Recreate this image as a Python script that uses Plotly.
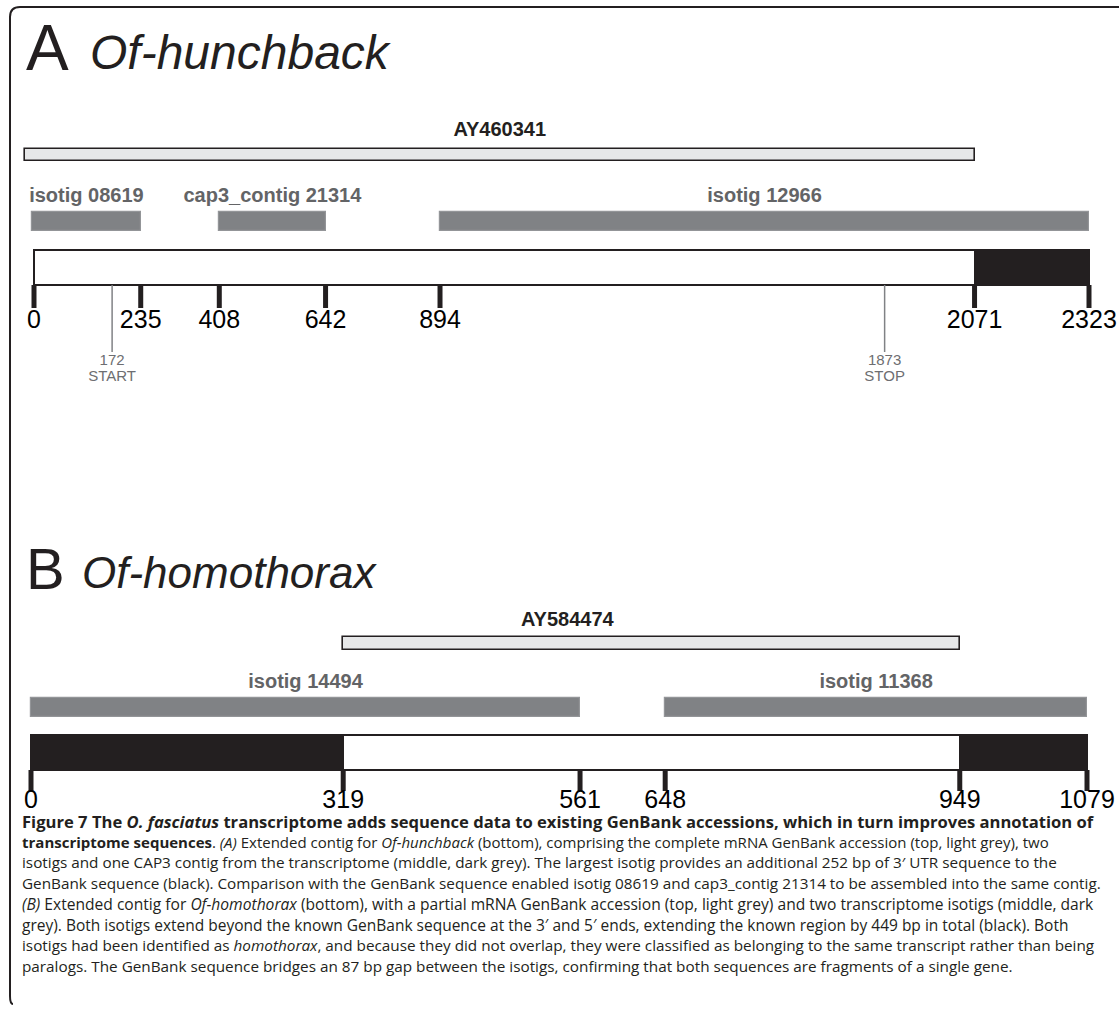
import plotly.graph_objects as go

# ---------------- data ----------------
# Panel A: Of-hunchback (bp positions)
a_genbank_name = "AY460341"
a_genbank = (-20, 2071)
a_isotig_names = ["isotig 08619", "cap3_contig 21314", "isotig 12966"]
a_isotig_start = [-4, 408, 894]
a_isotig_end = [235, 642, 2323]
a_contig_start = [0, 2071]
a_contig_end = [2071, 2323]
a_contig_kind = ["known", "new"]
a_ticks = [0, 235, 408, 642, 894, 2071, 2323]
a_tick_labels = ["0", "235", "408", "642", "894", "2071", "2323"]
a_marks = [172, 1873]
a_mark_labels = ["START", "STOP"]

# Panel B: Of-homothorax (bp positions)
b_genbank_name = "AY584474"
b_genbank = (319, 949)
b_isotig_names = ["isotig 14494", "isotig 11368"]
b_isotig_start = [0, 648]
b_isotig_end = [561, 1079]
b_contig_start = [0, 319, 949]
b_contig_end = [319, 949, 1079]
b_contig_kind = ["new", "known", "new"]
b_ticks = [0, 319, 561, 648, 949, 1079]
b_tick_labels = ["0", "319", "561", "648", "949", "1079"]

caption_lines = [
    "<b>Figure 7 The <i>O. fasciatus</i> transcriptome adds sequence data to existing GenBank accessions, which in turn improves annotation of</b>",
    "<b>transcriptome sequences</b>. <i>(A)</i> Extended contig for <i>Of-hunchback</i> (bottom), comprising the complete mRNA GenBank accession (top, light grey), two",
    "isotigs and one CAP3 contig from the transcriptome (middle, dark grey). The largest isotig provides an additional 252 bp of 3\u2032 UTR sequence to the",
    "GenBank sequence (black). Comparison with the GenBank sequence enabled isotig 08619 and cap3_contig 21314 to be assembled into the same contig.",
    "<i>(B)</i> Extended contig for <i>Of-homothorax</i> (bottom), with a partial mRNA GenBank accession (top, light grey) and two transcriptome isotigs (middle, dark",
    "grey). Both isotigs extend beyond the known GenBank sequence at the 3\u2032 and 5\u2032 ends, extending the known region by 449 bp in total (black). Both",
    "isotigs had been identified as <i>homothorax</i>, and because they did not overlap, they were classified as belonging to the same transcript rather than being",
    "paralogs. The GenBank sequence bridges an 87 bp gap between the isotigs, confirming that both sequences are fragments of a single gene.",
]

# ---------------- style ----------------
W, H = 1119, 1015
BLACK = "#231f20"
LIGHT = "#e6e7e8"
DARK = "#808285"
DARK_EDGE = "#939598"
LABEL_GREY = "#636466"
MARK_GREY = "#6d6e71"
FONT = "Liberation Sans, Arial, Helvetica, sans-serif"
CAP_FONT = "Open Sans, Noto Sans, sans-serif"
LABEL_SIZE = 20
CAP_SIZES = [16.6, 15.0, 15.3, 15.3, 15.6, 15.5, 15.3, 15.3]

# row layout (vertical positions, top-down)
A_ROWS = dict(gb_label=131, gb=155, gb_h=12, iso_label=197, iso=221.5, iso_h=19,
              contig=267.5, contig_h=35, tick_top=285, tick_bot=308, tick_label=322,
              mark_bot=352, mark_num=361, mark_lab=377)
B_ROWS = dict(gb_label=621, gb=643.5, gb_h=13, iso_label=683, iso=707.5, iso_h=19,
              contig=752.5, contig_h=35, tick_top=770, tick_bot=791, tick_label=802)

fig = go.Figure()


def add_bar(xa, ya, start, end, yc, h, fill, edge, ew):
    fig.add_trace(go.Bar(
        orientation="h", x=[end - start], base=[start], y=[yc], width=[h],
        marker=dict(color=fill, line=dict(color=edge, width=ew)),
        xaxis=xa, yaxis=ya, showlegend=False, hoverinfo="skip"))


def add_text(xa, ya, xs, ys, texts, size, color, bold=False):
    if bold:
        texts = ["<b>%s</b>" % t for t in texts]
    fig.add_trace(go.Scatter(
        x=xs, y=ys, mode="text", text=texts, textposition="middle center",
        textfont=dict(family=FONT, size=size, color=color), cliponaxis=False,
        xaxis=xa, yaxis=ya, showlegend=False, hoverinfo="skip"))


def panel(xa, ya, rows, gb, gb_name, gb_label_x, iso_s, iso_e, iso_n,
          c_s, c_e, c_k, ticks, tick_labels):
    # GenBank accession
    add_bar(xa, ya, gb[0], gb[1], rows["gb"], rows["gb_h"], LIGHT, BLACK, 1.6)
    add_text(xa, ya, [gb_label_x], [rows["gb_label"]], [gb_name], LABEL_SIZE, BLACK, bold=True)
    # transcriptome isotigs
    for s, e, n in zip(iso_s, iso_e, iso_n):
        add_bar(xa, ya, s, e, rows["iso"], rows["iso_h"], DARK, DARK_EDGE, 1.2)
        add_text(xa, ya, [(s + e) / 2], [rows["iso_label"]], [n], LABEL_SIZE, LABEL_GREY, bold=True)
    # extended contig
    for s, e, k in zip(c_s, c_e, c_k):
        add_bar(xa, ya, s, e, rows["contig"], rows["contig_h"],
                "white" if k == "known" else BLACK, BLACK, 2)
    # tick marks
    tx, ty = [], []
    for t in ticks:
        tx += [t, t, None]
        ty += [rows["tick_top"], rows["tick_bot"], None]
    fig.add_trace(go.Scatter(x=tx, y=ty, mode="lines",
                             line=dict(color=BLACK, width=5), cliponaxis=False,
                             xaxis=xa, yaxis=ya, showlegend=False, hoverinfo="skip"))
    add_text(xa, ya, ticks, [rows["tick_label"]] * len(ticks), tick_labels, 25, "black")


panel("x", "y", A_ROWS, a_genbank, a_genbank_name, sum(a_genbank) / 2,
      a_isotig_start, a_isotig_end, a_isotig_names,
      a_contig_start, a_contig_end, a_contig_kind, a_ticks, a_tick_labels)
panel("x2", "y2", B_ROWS, b_genbank, b_genbank_name, sum(b_genbank) / 2 - 86,
      b_isotig_start, b_isotig_end, b_isotig_names,
      b_contig_start, b_contig_end, b_contig_kind, b_ticks, b_tick_labels)

# START / STOP markers (panel A)
mx, my = [], []
for m in a_marks:
    mx += [m, m, None]
    my += [A_ROWS["tick_top"], A_ROWS["mark_bot"], None]
fig.add_trace(go.Scatter(x=mx, y=my, mode="lines", line=dict(color=DARK, width=1.5),
                         xaxis="x", yaxis="y", showlegend=False, hoverinfo="skip"))
add_text("x", "y", a_marks, [A_ROWS["mark_num"]] * len(a_marks), [str(m) for m in a_marks], 15, MARK_GREY)
add_text("x", "y", a_marks, [A_ROWS["mark_lab"]] * len(a_marks), a_mark_labels, 15, MARK_GREY)

annotations = []
# panel titles
for letter, gene, y, gx, ls, gs in [("A", "Of-hunchback", 48, 88, 64, 48),
                                    ("B", "Of-homothorax", 568, 80, 58, 44)]:
    annotations.append(dict(text=letter, x=24 / W, xref="paper", y=y, yref="y",
                            xanchor="left", yanchor="middle", showarrow=False,
                            font=dict(family=FONT, size=ls, color=BLACK)))
    annotations.append(dict(text="<i>%s</i>" % gene, x=gx / W,
                            xref="paper", y=y + 4, yref="y",
                            xanchor="left", yanchor="middle", showarrow=False,
                            font=dict(family=FONT, size=gs, color=BLACK)))
# caption
for i, line in enumerate(caption_lines):
    annotations.append(dict(text=line, x=20 / W, xref="paper", y=821 + 20.7 * i, yref="y",
                            xanchor="left", yanchor="middle", showarrow=False,
                            font=dict(family=CAP_FONT, size=CAP_SIZES[i], color=BLACK)))

# frame (rounded box, right/bottom edges outside the picture)
frame_path = ("M {x0} {y0} Q {x1} {y0} {x1} {y2} L {x1} {y3} Q {x1} {y4} {x5} {y4} L {x6} {y4}").format(
    x0=13 / W, y0=1 - 1004 / H, x1=10 / W, y2=1 - 996 / H, y3=1 - 17 / H,
    y4=1 - 7 / H, x5=20 / W, x6=1.05)
shapes = [dict(type="path", xref="paper", yref="paper", path=frame_path,
               line=dict(color=BLACK, width=2))]


def axis_for(px0, px1, lo, hi, dom0=12, dom1=1112):
    """x axis whose value lo sits at pixel px0 and hi at pixel px1."""
    s = (px1 - px0) / (hi - lo)
    return dict(domain=[dom0 / W, dom1 / W],
                range=[lo - (px0 - dom0) / s, hi + (dom1 - px1) / s], visible=False)


ydef = dict(domain=[0, 1], range=[H, 0], visible=False)
fig.update_layout(
    width=W, height=H, margin=dict(l=0, r=0, t=0, b=0),
    paper_bgcolor="white", plot_bgcolor="rgba(0,0,0,0)",
    barmode="overlay", bargap=0, hovermode=False,
    xaxis=dict(anchor="y", **axis_for(34, 1089, 0, 2323)),
    xaxis2=dict(anchor="y2", **axis_for(31, 1087, 0, 1079)),
    yaxis=dict(anchor="x", **ydef),
    yaxis2=dict(anchor="x2", **ydef),
    annotations=annotations, shapes=shapes,
)

fig.write_html("out.html", config={"displayModeBar": False},
               post_script="document.body.style.margin='0';")
